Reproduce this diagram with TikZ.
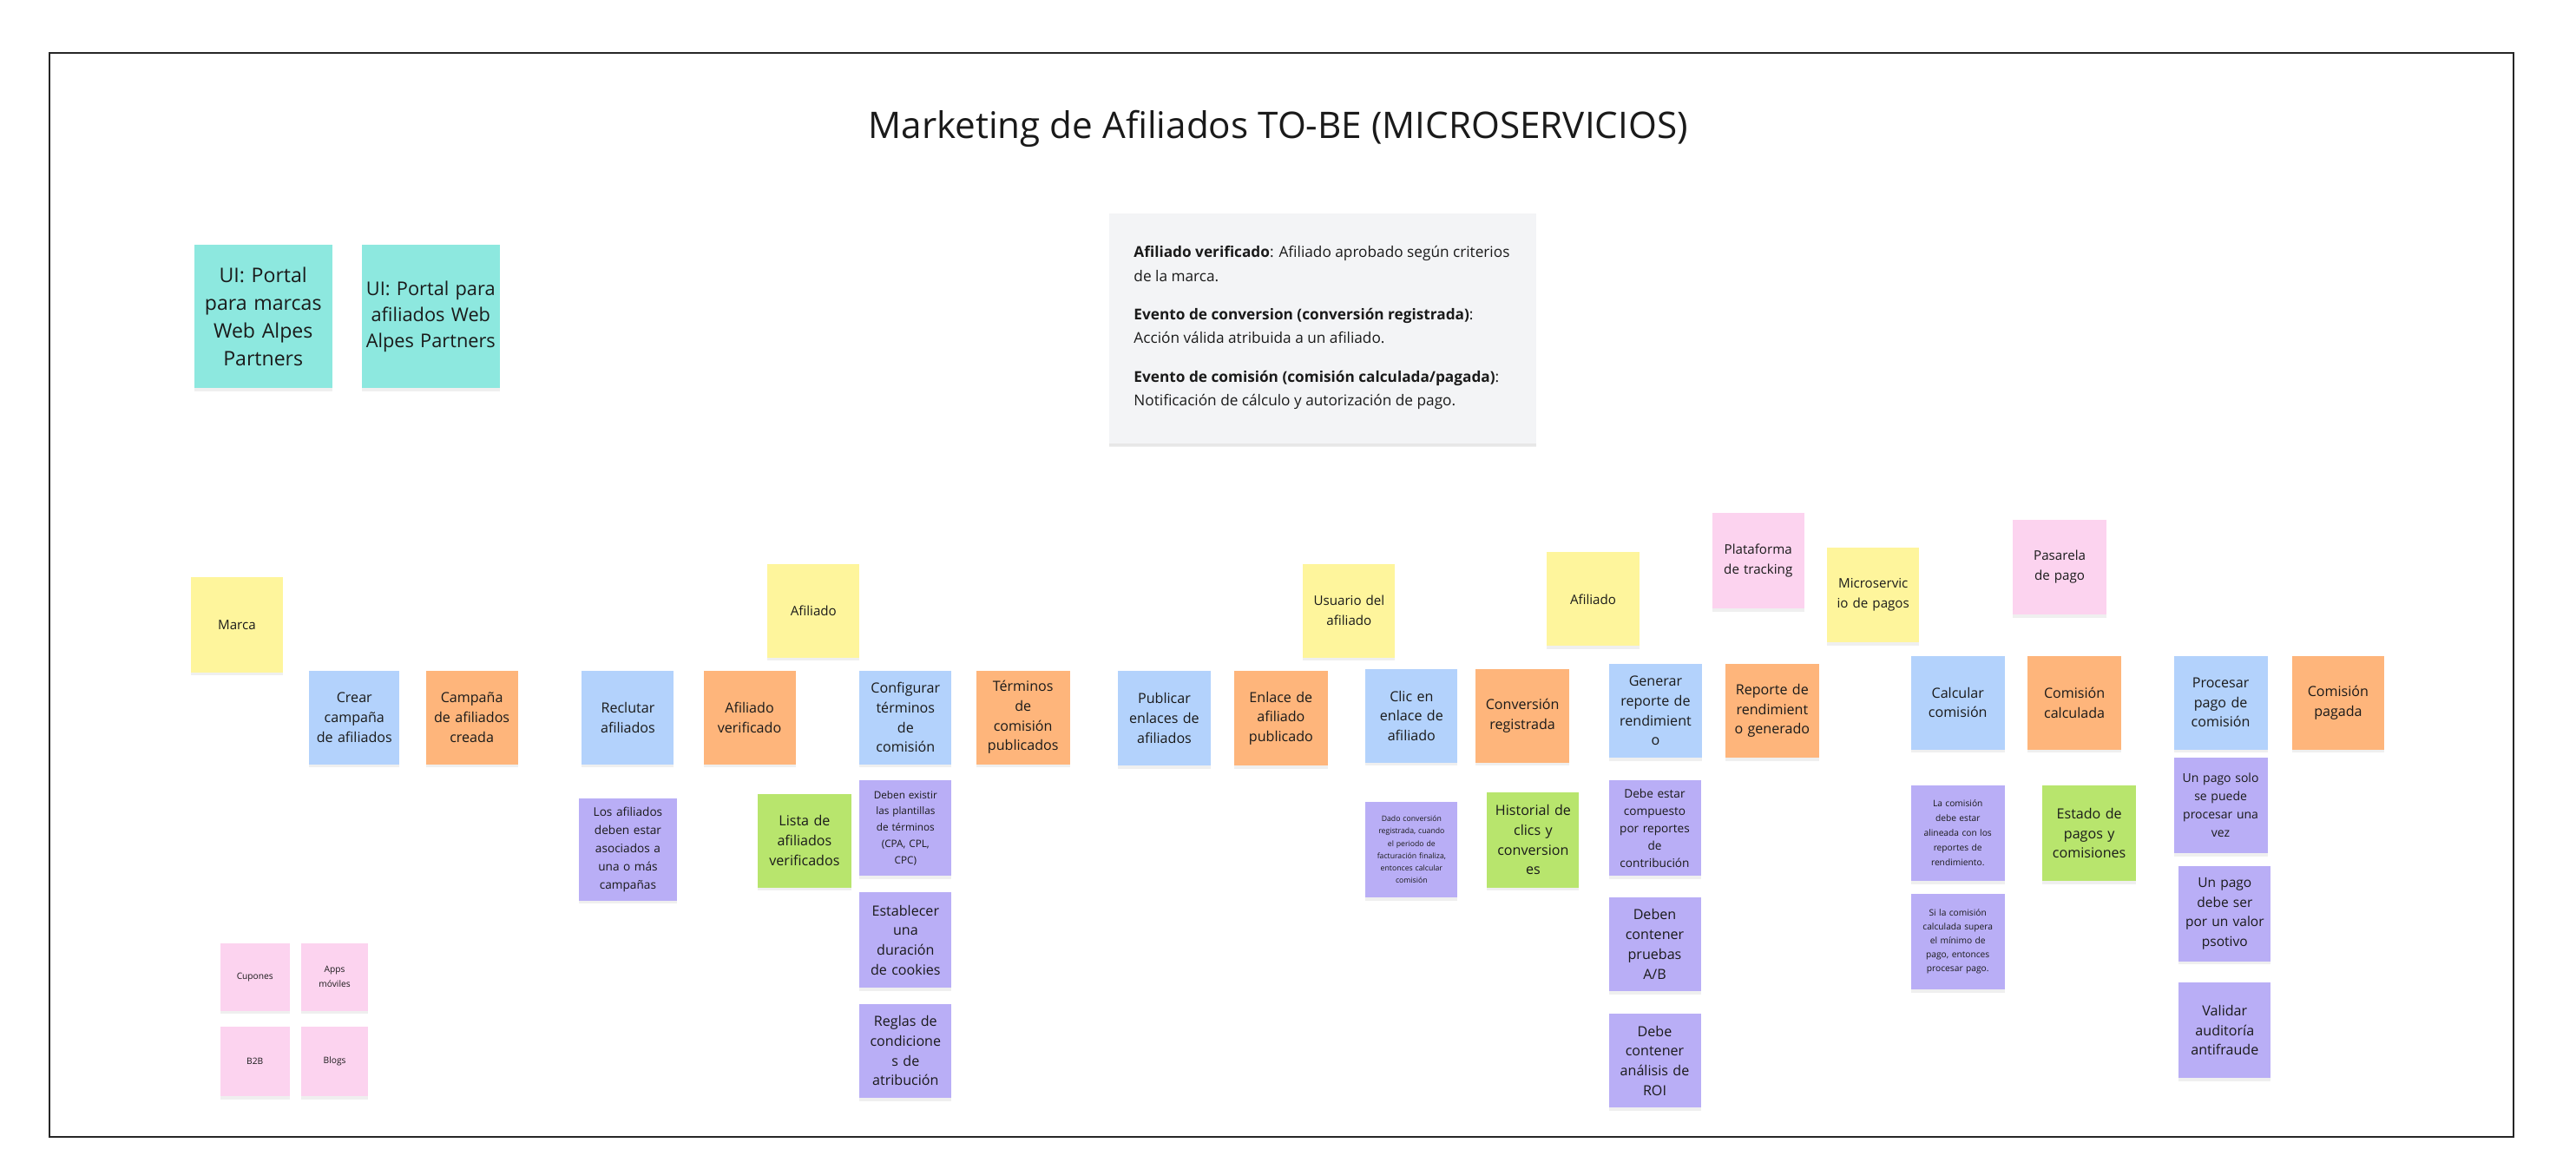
\documentclass[tikz,border=0pt]{standalone}
\usepackage{fontspec}
\setmainfont{Open Sans}
\usetikzlibrary{shadows}
\definecolor{cyel}{HTML}{FEF59C}
\definecolor{cblue}{HTML}{B3D2FC}
\definecolor{corange}{HTML}{FEB57B}
\definecolor{cpurple}{HTML}{B9AEF6}
\definecolor{cgreen}{HTML}{B8E56D}
\definecolor{cpink}{HTML}{FCD3EF}
\definecolor{cteal}{HTML}{8DE8DF}
\definecolor{cgray}{HTML}{F3F4F6}
\definecolor{ctext}{HTML}{1A1A1A}
\tikzset{
  note/.style={anchor=north west, inner sep=1pt, align=center, text=ctext,
    font=\fontsize{8.5}{12}\selectfont,
    drop shadow={opacity=0.12, shadow xshift=0pt, shadow yshift=-2pt}},
  sz/.style 2 args={minimum width=#1pt, minimum height=#2pt, text width=#1pt-3pt},
  yel/.style={note, fill=cyel, font=\fontsize{8}{12}\selectfont},
  blu/.style={note, fill=cblue},
  ora/.style={note, fill=corange},
  pur/.style={note, fill=cpurple},
  gre/.style={note, fill=cgreen},
  pin/.style={note, fill=cpink},
  tea/.style={note, fill=cteal},
  fs/.style 2 args={font=\fontsize{#1}{#2}\selectfont},
}
\begin{document}
\begin{tikzpicture}[x=1pt,y=-1pt]
\useasboundingbox (0,0) rectangle (1568,711.6);
\fill[white] (0,0) rectangle (1568,711.6);
\draw[line width=1pt, draw=black!85] (30,32) rectangle (1530,692);
\node[font=\fontsize{22.3}{26}\selectfont, text=ctext] (title) at (778,78.5) {Marketing de Afiliados TO-BE (MICROSERVICIOS)};

% UI notes
\node[tea, sz={84}{87}, fs={12.2}{17}] (ui1) at (118,149) {UI: Portal\\para marcas\\Web Alpes\\Partners};
\node[tea, sz={84}{87}, fs={11.5}{16}] (ui2) at (220,149) {UI: Portal para\\afiliados Web\\Alpes Partners};

% legend
\node[note, fill=cgray, minimum width=260pt, minimum height=140pt, drop shadow={opacity=0.07, shadow xshift=0pt, shadow yshift=-1.5pt}] (legend) at (675,130) {};
\node[anchor=north west, align=left, inner sep=0pt, text=ctext, font=\fontsize{9.1}{14.5}\selectfont] (legtext) at (690,149.5)
{\textbf{Afiliado verificado}: Afiliado aprobado según criterios\\de la marca.\\[9pt]
\textbf{Evento de conversion (conversión registrada)}:\\Acción válida atribuida a un afiliado.\\[9pt]
\textbf{Evento de comisión (comisión calculada/pagada)}:\\Notificación de cálculo y autorización de pago.};

% actors / systems
\node[yel, sz={56}{58}] (marca) at (116,351) {Marca};
\node[yel, sz={56}{57}] (afiliado1) at (467,343) {Afiliado};
\node[yel, sz={56}{57}] (usuario) at (793,343) {Usuario del\\afiliado};
\node[yel, sz={57}{57}] (afiliado2) at (941,336) {Afiliado};
\node[pin, sz={56}{58}, fs={8}{12}] (plataforma) at (1042,312) {Plataforma\\de tracking};
\node[yel, sz={56}{58}] (micro) at (1112,333) {Microservic\\io de pagos};
\node[pin, sz={57}{58}, fs={8}{12}] (pasarela) at (1225,316) {Pasarela\\de pago};

% commands and events
\node[blu, sz={55}{57}] (crear) at (188,408) {Crear\\campaña\\de afiliados};
\node[ora, sz={56}{57}] (campcreada) at (259,408) {Campaña\\de afiliados\\creada};
\node[blu, sz={56}{57}] (reclutar) at (354,408) {Reclutar\\afiliados};
\node[ora, sz={56}{57}] (afverif) at (428,408) {Afiliado\\verificado};
\node[blu, sz={56}{57}] (config) at (523,408) {Configurar\\términos\\de\\comisión};
\node[ora, sz={57}{57}] (terminos) at (594,408) {Términos\\de\\comisión\\publicados};
\node[blu, sz={57}{58}] (publicar) at (680,408) {Publicar\\enlaces de\\afiliados};
\node[ora, sz={57}{58}] (enlace) at (751,408) {Enlace de\\afiliado\\publicado};
\node[blu, sz={56}{57}] (clic) at (831,407) {Clic en\\enlace de\\afiliado};
\node[ora, sz={57}{57}] (conversion) at (898,407) {Conversión\\registrada};
\node[blu, sz={57}{57}] (generar) at (979,404) {Generar\\reporte de\\rendimient\\o};
\node[ora, sz={57}{57}] (reporte) at (1050,404) {Reporte de\\rendimient\\o generado};
\node[blu, sz={57}{57}] (calcular) at (1163,399) {Calcular\\comisión};
\node[ora, sz={57}{57}] (comcalc) at (1234,399) {Comisión\\calculada};
\node[blu, sz={57}{57}] (procesar) at (1323,399) {Procesar\\pago de\\comisión};
\node[ora, sz={56}{57}] (compagada) at (1395,399) {Comisión\\pagada};

% rules, read models
\node[pur, sz={60}{62}, fs={7.2}{11}] (losaf) at (352,486) {Los afiliados\\deben estar\\asociados a\\una o más\\campañas};
\node[gre, sz={57}{57}] (lista) at (461,483) {Lista de\\afiliados\\verificados};
\node[pur, sz={56}{58}, fs={6.2}{10}] (plantillas) at (523,475) {Deben existir\\las plantillas\\de términos\\(CPA, CPL,\\CPC)};
\node[pur, sz={56}{58}] (cookies) at (523,543) {Establecer\\una\\duración\\de cookies};
\node[pur, sz={56}{57}] (reglas) at (523,611) {Reglas de\\condicione\\s de\\atribución};
\node[pur, sz={56}{58}, fs={4.6}{7.5}] (dado) at (831,488) {Dado conversión\\registrada, cuando\\el periodo de\\facturación finaliza,\\entonces calcular\\comisión};
\node[gre, sz={56}{58}] (historial) at (905,482) {Historial de\\clics y\\conversion\\es};
\node[pur, sz={56}{58}, fs={7.2}{10.5}] (compuesto) at (979,475) {Debe estar\\compuesto\\por reportes\\de\\contribución};
\node[pur, sz={56}{57}] (pruebas) at (979,546) {Deben\\contener\\pruebas\\A/B};
\node[pur, sz={56}{57}] (roi) at (979,617) {Debe\\contener\\análisis de\\ROI};
\node[pur, sz={57}{58}, fs={5.4}{9}] (alineada) at (1163,478) {La comisión\\debe estar\\alineada con los\\reportes de\\rendimiento.};
\node[pur, sz={57}{58}, fs={5.4}{8.5}] (supera) at (1163,544) {Si la comisión\\calculada supera\\el mínimo de\\pago, entonces\\procesar pago.};
\node[gre, sz={57}{58}] (estado) at (1243,478) {Estado de\\pagos y\\comisiones};
\node[pur, sz={57}{58}, fs={7.4}{11}] (unavez) at (1323,461) {Un pago solo\\se puede\\procesar una\\vez};
\node[pur, sz={56}{58}, fs={8.2}{12}] (positivo) at (1326,527) {Un pago\\debe ser\\por un valor\\psotivo};
\node[pur, sz={56}{58}] (validar) at (1326,598) {Validar\\auditoría\\antifraude};

% channels
\node[pin, sz={42}{41}, fs={5.4}{9}] (cupones) at (134,574) {Cupones};
\node[pin, sz={41}{41}, fs={5.4}{9}] (apps) at (183,574) {Apps\\móviles};
\node[pin, sz={42}{42}, fs={5.4}{9}] (b2b) at (134,625) {B2B};
\node[pin, sz={41}{42}, fs={5.4}{9}] (blogs) at (183,625) {Blogs};
\end{tikzpicture}
\end{document}
